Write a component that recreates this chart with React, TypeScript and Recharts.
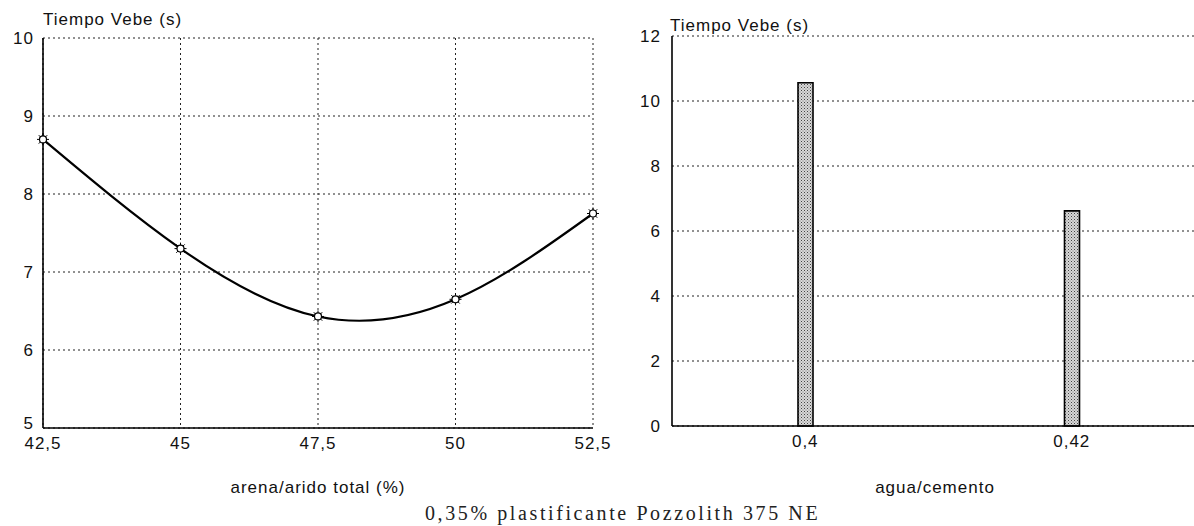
import React from "react";
import {
  LineChart,
  Line,
  BarChart,
  Bar,
  XAxis,
  YAxis,
  CartesianGrid,
} from "recharts";

// left panel: Vebe time vs sand / total aggregate
const sandPct = [42.5, 45, 47.5, 50, 52.5];
const vebeBySand = [8.7, 7.3, 6.43, 6.65, 7.75];
const sandTicks = [42.5, 45, 47.5, 50, 52.5];
const leftYTicks = [5, 6, 7, 8, 9, 10];

// right panel: Vebe time vs water/cement
const waterCement = ["0,4", "0,42"];
const vebeByWc = [10.56, 6.62];
const rightYTicks = [0, 2, 4, 6, 8, 10, 12];

const sandData = sandPct.map((x, i) => ({ x, v: vebeBySand[i] }));
const wcData = waterCement.map((ac, i) => ({ ac, v: vebeByWc[i] }));

const FONT = "'Liberation Sans', Arial, sans-serif";
const tickStyle = {
  fill: "#111",
  fontSize: 17,
  fontFamily: FONT,
  letterSpacing: 1,
};
const axisStroke = { stroke: "#000", strokeWidth: 1.6 };

const comma = (v: number) => String(v).replace(".", ",");

/** y tick for the left panel; the bottom label sits a bit higher, as in the scan */
function LeftYTick(props: any) {
  const { x, y, payload } = props;
  const shift = payload.value === leftYTicks[0] ? -5 : 0;
  return (
    <text
      x={x}
      y={y + shift}
      dy="0.355em"
      textAnchor="end"
      fill="#111"
      fontSize={17}
      fontFamily={FONT}
      letterSpacing={1}
    >
      {payload.value}
    </text>
  );
}

/** small sun-like marker used in the scanned original */
function SunDot(props: any) {
  const { cx, cy } = props;
  if (cx == null || cy == null) return null;
  const spikes = [0, 45, 90, 135, 180, 225, 270, 315].map((a) => {
    const r = (a * Math.PI) / 180;
    return (
      <line
        key={a}
        x1={cx + Math.cos(r) * 3.5}
        y1={cy + Math.sin(r) * 3.5}
        x2={cx + Math.cos(r) * 6}
        y2={cy + Math.sin(r) * 6}
        stroke="#000"
        strokeWidth={1}
      />
    );
  });
  return (
    <g>
      {spikes}
      <circle cx={cx} cy={cy} r={3.5} fill="#fff" stroke="#000" strokeWidth={1.2} />
    </g>
  );
}

const textAbs = (left: number, top: number): React.CSSProperties => ({
  position: "absolute",
  left,
  top,
  fontFamily: FONT,
  fontSize: 17,
  letterSpacing: 1,
  color: "#111",
  whiteSpace: "nowrap",
  lineHeight: 1,
});

export default function App() {
  return (
    <div
      style={{
        position: "relative",
        width: 1194,
        height: 526,
        overflow: "hidden",
        background: "#fff",
      }}
    >
      <style>{`body{margin:0}`}</style>

      {/* left chart */}
      <div style={{ position: "absolute", left: 0, top: 0 }}>
        <LineChart
          width={620}
          height={526}
          data={sandData}
          margin={{ top: 38, right: 27, bottom: 68, left: 0 }}
        >
          <CartesianGrid
            stroke="#222"
            strokeDasharray="2 3"
            verticalValues={sandTicks}
            horizontalValues={leftYTicks}
          />
          <XAxis
            dataKey="x"
            type="number"
            domain={[42.5, 52.5]}
            ticks={sandTicks}
            tickFormatter={comma}
            tick={tickStyle}
            tickLine={false}
            tickSize={0}
            tickMargin={9}
            axisLine={axisStroke}
            height={30}
          />
          <XAxis
            xAxisId="top"
            orientation="top"
            dataKey="x"
            type="number"
            domain={[42.5, 52.5]}
            tick={false}
            tickLine={false}
            axisLine={axisStroke}
            height={0}
          />
          <YAxis
            type="number"
            domain={[5, 10]}
            ticks={leftYTicks}
            tick={<LeftYTick />}
            tickLine={false}
            tickSize={0}
            tickMargin={9}
            axisLine={axisStroke}
            width={43}
          />
          <YAxis
            yAxisId="right"
            orientation="right"
            type="number"
            domain={[5, 10]}
            tick={false}
            tickLine={false}
            axisLine={axisStroke}
            width={0}
          />
          <Line
            type="natural"
            dataKey="v"
            stroke="#000"
            strokeWidth={2.2}
            dot={<SunDot />}
            activeDot={false}
            isAnimationActive={false}
          />
        </LineChart>
      </div>

      {/* right chart */}
      <div style={{ position: "absolute", left: 600, top: 0 }}>
        <BarChart
          width={620}
          height={526}
          data={wcData}
          margin={{ top: 36, right: 15, bottom: 70, left: 0 }}
          barCategoryGap={0}
        >
          <defs>
            <pattern id="stipple" width="3" height="3" patternUnits="userSpaceOnUse">
              <rect width="3" height="3" fill="#d8d8d8" />
              <rect width="1" height="1" fill="#444" />
              <rect x="1.5" y="1.5" width="1" height="1" fill="#777" />
            </pattern>
          </defs>
          <CartesianGrid
            stroke="#222"
            strokeDasharray="2 3"
            vertical={false}
            horizontalValues={rightYTicks}
          />
          <XAxis
            dataKey="ac"
            tick={tickStyle}
            tickLine={false}
            tickSize={0}
            tickMargin={9}
            axisLine={axisStroke}
            height={30}
          />
          <XAxis
            xAxisId="top"
            orientation="top"
            dataKey="ac"
            tick={false}
            tickLine={false}
            axisLine={axisStroke}
            height={0}
          />
          <YAxis
            type="number"
            domain={[0, 12]}
            ticks={rightYTicks}
            tick={tickStyle}
            tickLine={false}
            tickSize={0}
            tickMargin={11}
            axisLine={axisStroke}
            width={72}
          />
          <Bar
            dataKey="v"
            barSize={15}
            fill="url(#stipple)"
            stroke="#000"
            strokeWidth={1.6}
            isAnimationActive={false}
          />
        </BarChart>
      </div>

      {/* titles, axis names, caption */}
      <div style={textAbs(43, 11)}>Tiempo Vebe (s)</div>
      <div style={textAbs(670, 17)}>Tiempo Vebe (s)</div>
      <div style={{ ...textAbs(0, 479), width: 636, textAlign: "center" }}>
        arena/arido total (%)
      </div>
      <div style={{ ...textAbs(672, 479), width: 526, textAlign: "center" }}>
        agua/cemento
      </div>
      <div
        style={{
          position: "absolute",
          left: 425,
          top: 503,
          fontFamily: "'Liberation Serif', 'Times New Roman', serif",
          fontSize: 20,
          letterSpacing: 2.6,
          color: "#222",
          lineHeight: 1,
          whiteSpace: "nowrap",
        }}
      >
        0,35% plastificante Pozzolith 375 NE
      </div>
    </div>
  );
}
